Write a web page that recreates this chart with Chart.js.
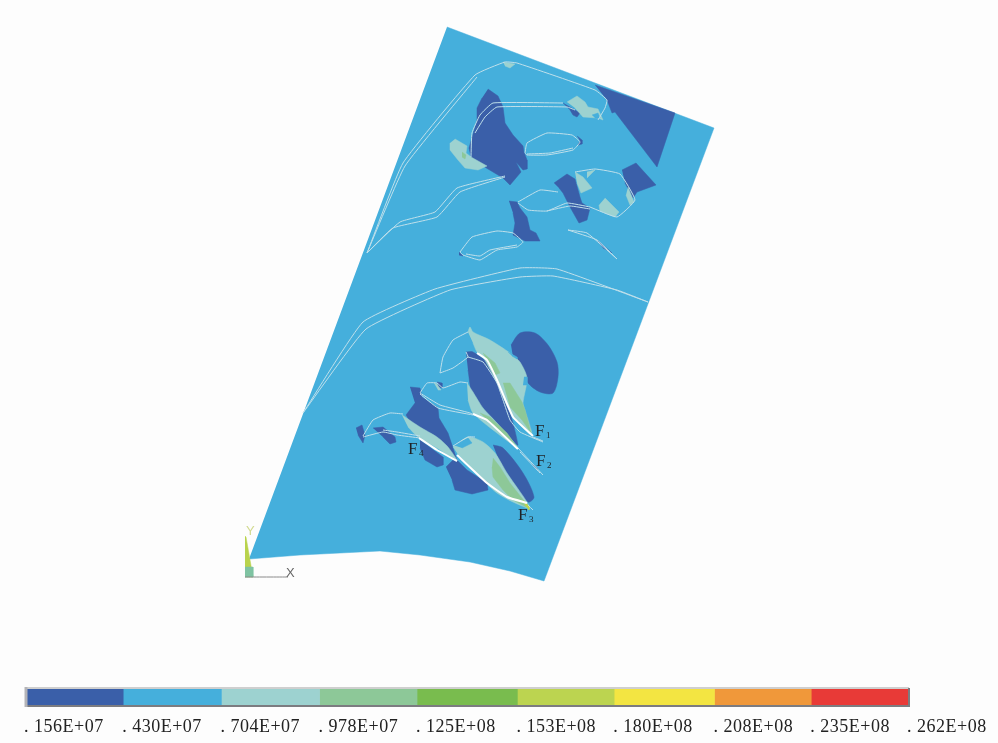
<!DOCTYPE html>
<html>
<head>
<meta charset="utf-8">
<title>Stress contour</title>
<script src="https://cdn.jsdelivr.net/npm/chart.js@4/dist/chart.umd.min.js"></script>
<style>
  html, body { margin: 0; padding: 0; background: #fdfdfd; }
  #page { position: relative; width: 998px; height: 743px; overflow: hidden; }
  canvas { position: absolute; left: 0; display: block; filter: blur(0.4px); }
  #plot { top: 0; }
  #bar { top: 685px; }
</style>
</head>
<body>
<div id="page">
  <canvas id="plot" width="998" height="743"></canvas>
  <canvas id="bar" width="998" height="58"></canvas>
</div>
<script>
// contour levels of the colour bar
const contourLevels = [1.56e6, 4.30e6, 7.04e6, 9.78e6, 1.25e7, 1.53e7, 1.80e7, 2.08e7, 2.35e7, 2.62e7];
const levelLabels = ['. 156E+07', '. 430E+07', '. 704E+07', '. 978E+07', '. 125E+08', '. 153E+08', '. 180E+08', '. 208E+08', '. 235E+08', '. 262E+08'];
const bandColors = ['#3a5fa9', '#45afdc', '#9dd2d0', '#8dc898', '#79bc4e', '#bcd450', '#f3e542', '#f0983a', '#e83a37'];

// model outlines, traced in picture units
const plate = [[447,27],[714,128],[544,581],[510,571],[470,562],[420,555],[380,551],[300,555],[249,559]];

const darkRegions = [
  [[595,85],[675,113],[657,167],[615,112],[612,113],[607,100]],
  [[488,89],[498,96],[503,107],[505,123],[513,135],[523,146],[524,152],[527,160],[527,169],[523,170],[516,162],[521,172],[510,185],[503,178],[483,166],[471,157],[469,148],[477,120],[477,108],[482,98]],
  [[563,103],[580,113],[577,117],[573,115],[570,110]],
  [[577,136],[582,140],[582,144],[578,145],[580,141]],
  [[554,183],[567,174],[575,179],[580,197],[582,203],[590,208],[587,220],[579,223],[570,207],[563,193],[559,188]],
  [[622,170],[636,163],[656,185],[637,192],[633,198],[625,183]],
  [[509,201],[517,202],[520,208],[527,217],[530,230],[536,233],[540,241],[525,241],[513,235],[515,223],[513,213]],
  [[459,252],[463,256],[459,255]],
  [[597,240],[612,253],[603,248]],
  [[524,408],[530,427],[531,433],[525,420]],
  [[437,382],[442,383],[442,388],[438,387]],
  [[410,387],[420,388],[422,397],[438,408],[439,418],[448,433],[457,460],[440,443],[420,437],[406,415],[415,403]],
  [[420,440],[443,457],[443,465],[437,467],[425,460],[420,448]],
  [[356,428],[362,425],[365,435],[363,443],[358,435]],
  [[373,428],[383,427],[395,437],[396,442],[390,444],[383,437]],
  [[446,467],[455,458],[467,470],[487,483],[488,490],[472,494],[455,490],[452,480]],
  [[532,464],[538,469],[535,468]]
];

const roundDarkRegions = [
  [[511,345],[520,333],[535,333],[548,345],[557,362],[558,377],[553,393],[540,392],[528,383],[523,370],[513,357]],
  [[466,352],[473,352],[487,363],[500,390],[510,413],[518,445],[515,443],[500,427],[473,395],[468,370]],
  [[493,445],[503,448],[523,473],[534,497],[528,502],[510,480],[500,463]]
];

const tealRegions = [
  [[455,139],[467,146],[466,153],[471,157],[487,166],[478,170],[465,168],[458,160],[450,150],[450,143]],
  [[503,62],[515,64],[510,68],[505,66]],
  [[567,102],[577,96],[585,102],[588,107],[598,109],[603,120],[598,118],[583,117],[575,108]],
  [[575,172],[583,177],[592,188],[581,193],[577,183]],
  [[587,172],[595,170],[587,178]],
  [[605,198],[612,205],[619,212],[615,217],[600,211],[599,205]],
  [[628,187],[634,202],[630,205],[626,195]],
  [[434,383],[437,384],[441,390],[438,390]]
];

const tealLeaves = [
  [[468,332],[470,327],[473,332],[490,340],[510,353],[520,362],[527,378],[523,403],[525,410],[532,435],[522,427],[510,412],[497,383],[483,357],[477,352],[473,343]],
  [[467,383],[473,392],[483,408],[497,423],[518,448],[497,433],[473,413],[468,400]],
  [[402,415],[420,427],[437,437],[448,447],[457,461],[437,448],[418,437],[408,427]],
  [[453,447],[468,437],[483,442],[495,453],[507,473],[530,508],[513,502],[497,493],[485,482],[473,470],[457,453]]
];

const lensRegions = [
  [[453,445],[468,438],[472,443],[462,448]],
  [[508,352],[517,357],[517,359],[512,356]],
  [[524,377],[527,377],[527,385],[523,385]],
  [[592,115],[598,113],[600,118],[595,118]]
];

const paleGreenRegions = [
  [[462,152],[466,155],[465,159],[462,157]],
  [[483,353],[495,363],[500,373],[495,375],[488,363]],
  [[503,383],[510,383],[522,402],[525,410],[531,433],[522,420],[510,407]],
  [[480,413],[490,417],[507,433],[517,447],[500,433]],
  [[493,458],[500,467],[510,483],[525,502],[528,508],[513,500],[503,490],[493,477],[492,467]]
];

const limeRegions = [
  [[523,500],[529,506],[529,510],[525,505]]
];

const thinLines = [
  [[367,253],[403,163],[475,75],[505,62],[517,63],[595,90],[607,100],[605,108],[598,120]],
  [[367,253],[405,166],[477,77]],
  [[367,253],[400,222],[435,212],[457,188],[505,176]],
  [[367,253],[393,228],[437,217],[460,192],[505,177]],
  [[471,157],[472,133],[480,115],[493,103],[563,103]],
  [[475,133],[485,117],[497,107],[567,107],[575,110]],
  [[525,153],[527,143],[547,133],[572,135],[580,142],[573,150],[547,155],[527,155],[525,153]],
  [[527,154],[550,153],[573,148]],
  [[575,172],[595,169],[620,174],[635,200],[617,217],[590,207]],
  [[518,202],[540,190],[558,192]],
  [[518,203],[528,210],[547,211],[567,203],[590,207]],
  [[547,211],[570,206],[590,209]],
  [[460,252],[472,237],[497,231],[513,233],[523,242],[517,247],[497,250],[480,260],[463,255],[460,252]],
  [[466,254],[480,256],[490,250],[517,245]],
  [[568,230],[587,233],[617,259]],
  [[568,230],[597,240],[617,259]],
  [[303,413],[363,322],[435,289],[520,268],[557,269],[648,302]],
  [[303,413],[366,329],[450,290],[520,277],[553,276],[617,290],[648,302]],
  [[440,373],[443,357],[453,340],[468,332]],
  [[440,373],[453,368],[468,357],[466,352]],
  [[468,357],[483,362],[497,383],[510,420],[520,432],[543,442]],
  [[533,437],[543,441]],
  [[420,393],[427,383],[437,383],[443,388],[460,382],[468,383]],
  [[420,393],[440,405],[470,413],[487,420]],
  [[420,394],[438,408],[473,415]],
  [[518,448],[543,475]],
  [[520,452],[540,473]],
  [[363,436],[373,420],[390,413],[403,414]],
  [[363,437],[383,432],[397,435],[420,438]],
  [[383,430],[397,432],[420,436]],
  [[453,446],[468,437],[475,437]],
  [[528,505],[533,510]]
];

const thickLines = [
  [[477,353],[487,360],[497,380],[513,417],[533,436]],
  [[473,414],[487,420],[518,449]],
  [[419,438],[437,450],[457,461]],
  [[457,455],[487,483],[507,497],[527,503]]
];

// coordinate triad in the lower left corner
const triadWedge = [[245,536],[246,537],[253,577],[245,577]];
const triadBase = [[245,567],[253,567],[253,577],[245,577]];
const triadAxis = [[245,577],[288,577]];

const faultIndex = ['1', '2', '3', '4'];
const faultAnchors = [[535,436],[536,466],[518,520],[408,454]];
const triadNames = ['Y', 'X'];
const triadAnchors = [[246,535],[286,577]];

function toPoints(list) {
  return list.map(p => ({ x: p[0], y: p[1] }));
}

function region(list, color, tension = 0) {
  return { data: toPoints(list), showLine: true, fill: 'shape', tension, backgroundColor: color, borderColor: color, borderWidth: 0.5, pointRadius: 0 };
}

function stroke(list, color, width) {
  return { data: toPoints(list), showLine: true, fill: false, tension: 0.12, borderColor: color, borderWidth: width, pointRadius: 0 };
}

// listed bottom to top, chart.js paints the first dataset last
const layers = [
  region(plate, bandColors[1]),
  ...darkRegions.map(r => region(r, bandColors[0])),
  ...roundDarkRegions.map(r => region(r, bandColors[0], 0.3)),
  ...tealRegions.map(r => region(r, bandColors[2])),
  ...tealLeaves.map(r => region(r, bandColors[2], 0.25)),
  ...lensRegions.map(r => region(r, bandColors[1])),
  ...paleGreenRegions.map(r => region(r, bandColors[3])),
  ...limeRegions.map(r => region(r, bandColors[5])),
  ...thinLines.map(l => stroke(l, '#bfe0eb', 1)),
  ...thickLines.map(l => stroke(l, '#ffffff', 2)),
  region(triadWedge, '#b9d34c'),
  region(triadBase, '#7fc3a2'),
  stroke(triadAxis, '#8a8a8a', 1)
];

const plotLabels = {
  id: 'plotLabels',
  afterDatasetsDraw(chart) {
    const { ctx, scales: { x, y } } = chart;
    ctx.save();
    ctx.textBaseline = 'alphabetic';
    ctx.fillStyle = '#1f2226';
    faultAnchors.forEach((a, i) => {
      const px = x.getPixelForValue(a[0]);
      const py = y.getPixelForValue(a[1]);
      ctx.font = '17px "Liberation Serif"';
      ctx.fillText('F', px, py);
      ctx.font = '9px "Liberation Serif"';
      ctx.fillText(faultIndex[i], px + 11, py + 2);
    });
    ctx.font = '13px "Liberation Sans"';
    triadNames.forEach((name, i) => {
      ctx.fillStyle = i === 0 ? '#d2da90' : '#666666';
      ctx.fillText(name, x.getPixelForValue(triadAnchors[i][0]), y.getPixelForValue(triadAnchors[i][1]));
    });
    ctx.restore();
  }
};

new Chart(document.getElementById('plot'), {
  type: 'scatter',
  data: { datasets: layers.slice().reverse() },
  plugins: [plotLabels],
  options: {
    responsive: false,
    animation: false,
    events: [],
    plugins: { legend: { display: false }, tooltip: { enabled: false } },
    scales: {
      x: { type: 'linear', min: 0, max: 998, display: false },
      y: { type: 'linear', min: 0, max: 743, reverse: true, display: false }
    }
  }
});

// raised grey frame around the colour bar
const barFrame = {
  id: 'barFrame',
  beforeDraw(chart) {
    chart.ctx.letterSpacing = '0.5px';
  },
  afterDatasetsDraw(chart) {
    const { ctx, chartArea: a } = chart;
    ctx.save();
    ctx.lineWidth = 2;
    ctx.strokeStyle = '#cfcfcf';
    ctx.beginPath();
    ctx.moveTo(a.left, a.top - 1);
    ctx.lineTo(a.right + 1, a.top - 1);
    ctx.stroke();
    ctx.strokeStyle = '#7c7c80';
    ctx.beginPath();
    ctx.moveTo(a.right + 1, a.top - 1);
    ctx.lineTo(a.right + 1, a.bottom + 1);
    ctx.lineTo(a.left, a.bottom + 1);
    ctx.stroke();
    ctx.lineWidth = 3;
    ctx.strokeStyle = '#b4b4b8';
    ctx.beginPath();
    ctx.moveTo(a.left + 1, a.top - 2);
    ctx.lineTo(a.left + 1, a.bottom + 2);
    ctx.stroke();
    ctx.restore();
  }
};

new Chart(document.getElementById('bar'), {
  type: 'bar',
  data: {
    labels: [''],
    datasets: bandColors.map((c, i) => ({
      data: [[contourLevels[i], contourLevels[i + 1]]],
      backgroundColor: c,
      borderWidth: 0
    }))
  },
  plugins: [barFrame],
  options: {
    indexAxis: 'y',
    responsive: false,
    animation: false,
    events: [],
    grouped: false,
    barPercentage: 1,
    categoryPercentage: 1,
    layout: { padding: { left: 25, right: 90, top: 4, bottom: 0 } },
    plugins: { legend: { display: false }, tooltip: { enabled: false } },
    scales: {
      y: { display: false },
      x: {
        type: 'linear',
        min: contourLevels[0],
        max: contourLevels[9],
        grid: { display: false },
        border: { display: false },
        afterBuildTicks: axis => { axis.ticks = contourLevels.map(v => ({ value: v })); },
        afterFit: axis => { axis.height = 38; },
        ticks: {
          autoSkip: false,
          maxRotation: 0,
          align: 'start',
          labelOffset: -1,
          padding: 3,
          color: '#222222',
          font: { family: '"Liberation Serif"', size: 18 },
          callback: (v, i) => levelLabels[i]
        }
      }
    }
  }
});
</script>
</body>
</html>
